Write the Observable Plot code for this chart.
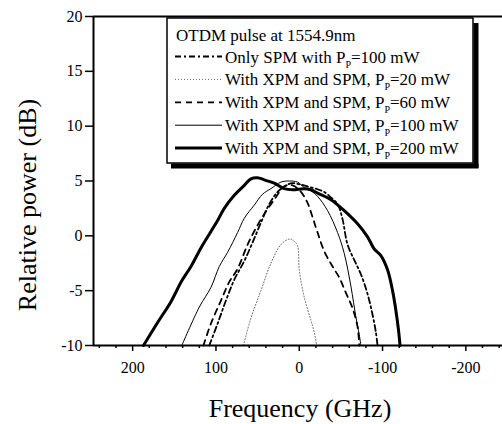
<!DOCTYPE html>
<html><head><meta charset="utf-8">
<script src="https://cdn.jsdelivr.net/npm/d3@7"></script>
<script src="https://cdn.jsdelivr.net/npm/@observablehq/plot@0.6"></script>
<style>body{margin:0;background:#fff} #chart{width:502px;height:424px}</style>
</head><body><div id="chart"></div>
<script>
// ---- data ----
const spmFreq  = [108, 98, 88, 78, 66, 56, 46, 36, 26, 16, 8, 0, -10, -20, -30, -38, -46, -52, -58, -66, -74, -82, -88, -92, -94];
const spmPower = [-10, -8, -5.9, -4.0, -2.3, -0.6, 1.2, 2.9, 4.0, 4.6, 4.8, 4.7, 4.5, 4.3, 4.0, 3.5, 2.9, 1.5, -0.8, -2.2, -3.5, -5.3, -7.2, -8.8, -10];

const p20Freq  = [67, 58, 46, 34, 22, 12, 6, 2, 0, -6, -14, -18, -21];
const p20Power = [-10, -7.5, -5, -2.5, -0.8, -0.3, -0.5, -0.9, -3.1, -5.6, -7.7, -8.8, -10];

const p60Freq  = [115, 106, 94, 84, 74, 62, 52, 42, 30, 18, 8, -2, -10, -16, -22, -30, -40, -48, -56, -64, -70, -72];
const p60Power = [-10, -8, -5.9, -4.2, -3.0, -0.8, 0.7, 2.0, 3.3, 4.5, 4.6, 4.0, 3.0, 1.7, 0.3, -1.4, -2.8, -3.8, -5.2, -6.6, -8.3, -10];

const p100Freq  = [141, 120, 106, 96, 86, 74, 66, 54, 44, 34, 22, 12, 2, -6, -14, -22, -34, -46, -54, -62, -68, -72, -74];
const p100Power = [-10, -6.5, -4.7, -2.8, -1.5, 0.3, 1.6, 2.8, 3.8, 4.3, 4.9, 5.0, 4.9, 4.4, 4.1, 3.6, 2.3, 0.3, -1.6, -4.6, -7.4, -9, -10];

const p200Freq  = [187, 170, 154, 141, 130, 118, 106, 98, 90, 78, 66, 58, 50, 42, 30, 18, 8, -6, -14, -22, -38, -54, -70, -82, -90, -98, -106, -112, -116, -119, -121];
const p200Power = [-10, -7.9, -6.0, -4.1, -2.8, -1.1, 0.4, 1.4, 2.5, 3.7, 4.6, 5.2, 5.3, 5.1, 4.8, 4.3, 4.2, 4.3, 4.2, 3.9, 3.3, 2.3, 1.1, -0.1, -1.2, -1.8, -3.1, -5.0, -6.8, -8.5, -10];

const seriesNames = ["spm100", "xpm20", "xpm60", "xpm100", "xpm200"];
const legendTitle = "OTDM pulse at 1554.9nm";
const legendPrefix = ["Only SPM with P", "With XPM and SPM, P", "With XPM and SPM, P", "With XPM and SPM, P", "With XPM and SPM, P"];
const legendSuffix = ["=100 mW", "=20 mW", "=60 mW", "=100 mW", "=200 mW"];

const xTicks = [200, 100, 0, -100, -200];
const xMinorTicks = [240, 220, 180, 160, 140, 120, 80, 60, 40, 20, -20, -40, -60, -80, -120, -140, -160, -180, -220, -240];
const yTicks = [-10, -5, 0, 5, 10, 15, 20];
const xTitle = "Frequency (GHz)";
const yTitle = "Relative power (dB)";

// ---- styles ----
const styles = {
  spm100: {stroke: "#000", strokeWidth: 1.8, strokeDasharray: "6,3,2,3"},
  xpm20:  {stroke: "#666", strokeWidth: 1, strokeDasharray: "1,2"},
  xpm60:  {stroke: "#000", strokeWidth: 1.8, strokeDasharray: "6,5"},
  xpm100: {stroke: "#000", strokeWidth: 1, strokeDasharray: null},
  xpm200: {stroke: "#000", strokeWidth: 3, strokeDasharray: null}
};

const pairs = [[spmFreq, spmPower], [p20Freq, p20Power], [p60Freq, p60Power], [p100Freq, p100Power], [p200Freq, p200Power]];
const rows = [];
pairs.forEach(([fs, ps], i) => fs.forEach((f, j) => rows.push({series: seriesNames[i], f, p: ps[j]})));

const xLeft = 247, xRight = -244;
const lineMarks = seriesNames.map(s => Plot.line(rows.filter(r => r.series === s), {
  x: "f", y: "p", curve: "catmull-rom", ...styles[s]
}));

const svgEl = Plot.plot({
  width: 502, height: 424,
  marginLeft: 93, marginRight: 0, marginTop: 16, marginBottom: 79,
  x: {domain: [xLeft, xRight], label: null},
  y: {domain: [-10, 20], label: null},
  style: {fontFamily: "Liberation Serif", fontSize: "16px", color: "#000", background: "#fff"},
  marks: [
    ...lineMarks,
    Plot.axisX({ticks: xMinorTicks, tickSize: 3, tickFormat: () => "", label: null, strokeWidth: 1.5}),
    Plot.axisX({ticks: xTicks, tickSize: 6, tickPadding: 10, tickFormat: d => String(d), label: null, strokeWidth: 1.5}),
    Plot.axisY({ticks: yTicks, tickSize: 8, tickPadding: 3, tickFormat: d => String(d), label: null, strokeWidth: 1.5}),
    Plot.ruleY([-10, 20], {strokeWidth: 2}),
    Plot.ruleX([xLeft], {strokeWidth: 2})
  ]
});
document.getElementById("chart").appendChild(svgEl);

const svg = d3.select(svgEl);
svg.append("text").attr("x", 300).attr("y", 417).attr("text-anchor", "middle")
  .style("font-size", "26px").style("font-family", "Liberation Serif").text(xTitle);
svg.append("text").attr("transform", "translate(36,205) rotate(-90)").attr("text-anchor", "middle")
  .style("font-size", "26px").style("font-family", "Liberation Serif").text(yTitle);

// legend box with drop shadow
const lg = svg.append("g").attr("text-anchor", "start")
  .style("font-family", "Liberation Serif").style("font-size", "17px");
lg.append("rect").attr("x", 167).attr("y", 18).attr("width", 306).attr("height", 145)
  .attr("fill", "#fff").attr("stroke", "#000").attr("stroke-width", 1.5);
lg.append("rect").attr("x", 473.5).attr("y", 23).attr("width", 5).attr("height", 145)
  .attr("fill", "#000").attr("stroke", "none");
lg.append("rect").attr("x", 171).attr("y", 163.5).attr("width", 307.5).attr("height", 5)
  .attr("fill", "#000").attr("stroke", "none");
lg.append("text").attr("x", 176).attr("y", 41).style("text-anchor", "start").text(legendTitle);
seriesNames.forEach((s, i) => {
  const cy = 56.5 + i * 22.9;
  const st = styles[s];
  lg.append("line").attr("x1", 175).attr("x2", 222).attr("y1", cy).attr("y2", cy)
    .style("stroke", st.stroke).style("stroke-width", st.strokeWidth + "px")
    .style("stroke-dasharray", st.strokeDasharray || "none");
  const t = lg.append("text").attr("x", 225).attr("y", cy + 6).style("text-anchor", "start");
  t.append("tspan").text(legendPrefix[i]);
  t.append("tspan").attr("dy", 5).style("font-size", "10px").text("P");
  t.append("tspan").attr("dy", -5).text(legendSuffix[i]);
});
</script>
</body></html>
